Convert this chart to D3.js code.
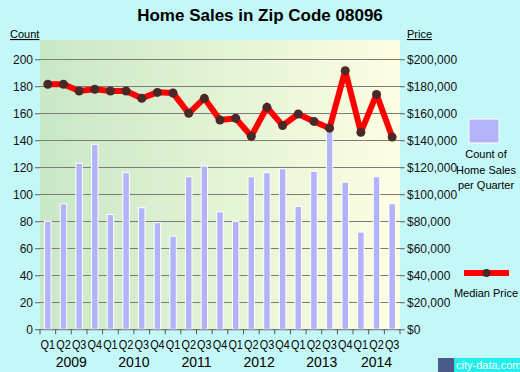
<!DOCTYPE html>
<html>
<head>
<meta charset="utf-8">
<script src="https://cdn.jsdelivr.net/npm/d3@7"></script>
<style>
  body { margin: 0; background: #c4f8f8; }
  svg { display: block; font-family: "Liberation Sans", Arial, sans-serif; }
</style>
</head>
<body>
<div id="chart"></div>
<script>
const years = ["2009", "2010", "2011", "2012", "2013", "2014"];
const quarters = [
  "2009 Q1", "2009 Q2", "2009 Q3", "2009 Q4",
  "2010 Q1", "2010 Q2", "2010 Q3", "2010 Q4",
  "2011 Q1", "2011 Q2", "2011 Q3", "2011 Q4",
  "2012 Q1", "2012 Q2", "2012 Q3", "2012 Q4",
  "2013 Q1", "2013 Q2", "2013 Q3", "2013 Q4",
  "2014 Q1", "2014 Q2", "2014 Q3"
];
const salesCount = [80, 93, 123, 137, 85, 116, 90, 79, 69, 113, 121, 87,
  80, 113, 116, 119, 91, 117, 148, 109, 72, 113, 93];
const medianPrice = [181500, 181500, 176500, 177800, 176500, 176500, 171100, 175500,
  175000, 160000, 171100, 155000, 156300, 143000, 164400, 151000, 159500, 154000,
  149000, 191600, 145900, 174000, 142400];
const countTicks = [0, 20, 40, 60, 80, 100, 120, 140, 160, 180, 200];
const priceTicks = [0, 20000, 40000, 60000, 80000, 100000, 120000, 140000, 160000, 180000, 200000];

const W = 520, H = 372;
const plotL = 40, plotR = 400, plotT = 40, plotB = 329.3;

const svg = d3.select("#chart").append("svg")
  .attr("width", W).attr("height", H);

const defs = svg.append("defs");
const grad = defs.append("linearGradient").attr("id", "bg").attr("x1", "0").attr("x2", "1");
grad.append("stop").attr("offset", "0").attr("stop-color", "#c8e8c6");
grad.append("stop").attr("offset", "1").attr("stop-color", "#fefee2");

svg.append("rect").attr("x", plotL).attr("y", plotT)
  .attr("width", plotR - plotL).attr("height", plotB - plotT)
  .attr("fill", "url(#bg)");

const x = d3.scaleBand().domain(quarters).range([plotL, plotR]).paddingInner(0);
const y = d3.scaleLinear().domain([0, 200]).range([plotB, 59.3]);
const yp = d3.scaleLinear().domain([0, 200000]).range([plotB, 59.3]);

// gridlines
svg.append("g").selectAll("line").data(countTicks).join("line")
  .attr("x1", 35).attr("x2", plotR + 4)
  .attr("y1", d => Math.round(y(d)) + 0.5).attr("y2", d => Math.round(y(d)) + 0.5)
  .attr("stroke", "#7c7c7c").attr("stroke-width", 1);

// left axis
const yAxis = svg.append("g").attr("transform", `translate(${plotL},0)`)
  .call(d3.axisLeft(y).tickValues(countTicks).tickSize(5).tickPadding(2));
yAxis.select(".domain").remove();
yAxis.selectAll("line").attr("stroke", "#7c7c7c");
yAxis.selectAll("text").attr("font-size", 12).attr("fill", "#111")
  .attr("font-family", "Liberation Sans, Arial, sans-serif");

// right axis
const pAxis = svg.append("g").attr("transform", `translate(${plotR},0)`)
  .call(d3.axisRight(yp).tickValues(priceTicks).tickSize(5).tickPadding(2)
    .tickFormat(d => "$" + d3.format(",")(d)));
pAxis.select(".domain").remove();
pAxis.selectAll("line").attr("stroke", "#7c7c7c");
pAxis.selectAll("text").attr("font-size", 12).attr("fill", "#111")
  .attr("font-family", "Liberation Sans, Arial, sans-serif");

// bars
const bw = 6.5;
svg.append("g").selectAll("rect").data(salesCount).join("rect")
  .attr("x", (d, i) => x(quarters[i]) + x.bandwidth() / 2 - bw / 2)
  .attr("y", d => y(d))
  .attr("width", bw)
  .attr("height", d => plotB - y(d))
  .attr("fill", "#b3b3fa")
  .attr("stroke", "#ffffff").attr("stroke-width", 1);

// x axis
svg.append("line").attr("x1", plotL).attr("x2", plotR)
  .attr("y1", plotB + 0.5).attr("y2", plotB + 0.5).attr("stroke", "#7c7c7c");
svg.append("g").selectAll("line").data(quarters.concat(["end"])).join("line")
  .attr("x1", (d, i) => plotL + i * x.bandwidth())
  .attr("x2", (d, i) => plotL + i * x.bandwidth())
  .attr("y1", plotB).attr("y2", plotB + 5)
  .attr("stroke", "#555");
svg.append("g").selectAll("text").data(quarters).join("text")
  .attr("x", d => x(d) + x.bandwidth() / 2)
  .attr("y", 349)
  .attr("text-anchor", "middle")
  .attr("font-size", 12)
  .attr("textLength", 14.5).attr("lengthAdjust", "spacingAndGlyphs")
  .text(d => d.split(" ")[1]);
svg.append("g").selectAll("text").data(years).join("text")
  .attr("x", yr => {
    const qs = quarters.filter(q => q.startsWith(yr));
    return (x(qs[0]) + x(qs[qs.length - 1]) + x.bandwidth()) / 2;
  })
  .attr("y", 367)
  .attr("text-anchor", "middle")
  .attr("font-size", 14)
  .text(d => d);

// price line
const line = d3.line()
  .x((d, i) => x(quarters[i]) + x.bandwidth() / 2)
  .y(d => yp(d));
svg.append("path").datum(medianPrice)
  .attr("d", line)
  .attr("fill", "none")
  .attr("stroke", "#ff0000")
  .attr("stroke-width", 6)
  .attr("stroke-linejoin", "miter")
  .attr("stroke-miterlimit", 2.2);
svg.append("g").selectAll("circle").data(medianPrice).join("circle")
  .attr("cx", (d, i) => x(quarters[i]) + x.bandwidth() / 2)
  .attr("cy", d => yp(d))
  .attr("r", 4.5)
  .attr("fill", "#4a2828");

// title
svg.append("text").attr("x", 260).attr("y", 21)
  .attr("text-anchor", "middle")
  .attr("font-size", 17).attr("font-weight", "bold")
  .text("Home Sales in Zip Code 08096");

svg.append("text").attr("x", 10).attr("y", 38).attr("font-size", 11)
  .attr("text-decoration", "underline").text("Count");
svg.append("text").attr("x", 407).attr("y", 38).attr("font-size", 11)
  .attr("text-decoration", "underline").text("Price");

// legend
svg.append("rect").attr("x", 469).attr("y", 119).attr("width", 30).attr("height", 24)
  .attr("fill", "#b3b3fa").attr("stroke", "#fff").attr("stroke-width", 1);
["Count of", "Home Sales", "per Quarter"].forEach((t, i) => {
  svg.append("text").attr("x", 486).attr("y", 158 + i * 15.5)
    .attr("text-anchor", "middle").attr("font-size", 11).text(t);
});
svg.append("rect").attr("x", 464).attr("y", 270).attr("width", 45).attr("height", 6)
  .attr("fill", "#ff0000");
svg.append("circle").attr("cx", 486.5).attr("cy", 273).attr("r", 4)
  .attr("fill", "#4a2828");
svg.append("text").attr("x", 486).attr("y", 297)
  .attr("text-anchor", "middle").attr("font-size", 11).text("Median Price");

// watermark
const wm = svg.append("g");
wm.append("rect").attr("x", 438).attr("y", 358).attr("width", 16).attr("height", 14)
  .attr("fill", "#4a5a8a");
wm.append("rect").attr("x", 454).attr("y", 358).attr("width", 66).attr("height", 14)
  .attr("fill", "#22eeee");
wm.append("text").attr("x", 456).attr("y", 369).attr("font-size", 11)
  .attr("fill", "#ffffff").text("city-data.com");
</script>
</body>
</html>
